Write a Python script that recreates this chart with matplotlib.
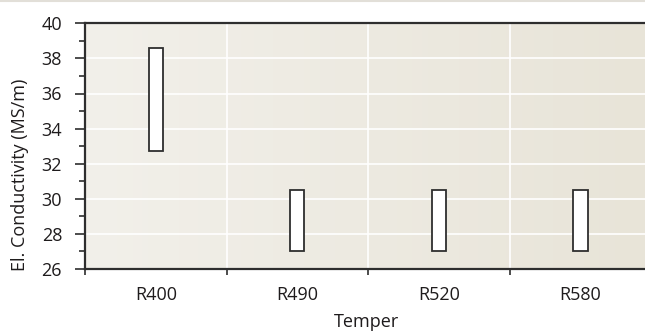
import numpy as np
import matplotlib
matplotlib.use("Agg")
from matplotlib import pyplot as plt
from matplotlib.colors import LinearSegmentedColormap
from matplotlib.lines import Line2D

plt.rcParams['font.family'] = ['Open Sans', 'DejaVu Sans']

tempers = ["R400", "R490", "R520", "R580"]
low = [32.75, 27.0, 27.0, 27.0]      # MS/m
high = [38.6, 30.5, 30.5, 30.5]

dark = "#2e2e2e"
txt = "#1e1b1c"
fs = 13

fig = plt.figure(figsize=(6.45, 3.31), dpi=100)
ax = fig.add_axes([85 / 645, 1 - 269 / 331, 562 / 645, 245.7 / 331])

x = np.arange(len(tempers))
ax.set_xlim(-0.5, 3.47)
ax.set_ylim(26, 40)

# background gradient
cmap = LinearSegmentedColormap.from_list("bg", ["#f2f0ea", "#e8e4d8"])
grad = np.linspace(0, 1, 256).reshape(1, -1)
ax.imshow(grad, cmap=cmap, aspect="auto", extent=[-0.5, 3.47, 26, 40], zorder=0)

# grid
for yv in range(28, 40, 2):
    ax.axhline(yv, color="white", lw=1.2, zorder=1)
for xv in x[:-1] + 0.5:
    ax.axvline(xv, color="white", lw=1.2, zorder=1)

ax.bar(x, np.array(high) - np.array(low), bottom=low, width=0.1,
       color="white", edgecolor=dark, linewidth=1.3, zorder=3)

ax.set_xticks(x)
ax.set_xticklabels(tempers)
ax.set_xticks(np.arange(-0.5, 3.0, 1.0), minor=True)
ax.tick_params(axis="x", which="major", length=0, pad=12, labelsize=fs, colors=txt)
ax.tick_params(axis="x", which="minor", length=4.5, width=1.2, color=dark, direction="out")

ax.set_yticks(range(26, 41, 2))
ax.set_yticks(range(27, 40, 2), minor=True)
ax.tick_params(axis="y", which="major", length=7, width=1.2, pad=9.5,
               labelsize=fs, colors=txt)
ax.tick_params(axis="y", which="minor", length=4.3, width=1.2)
ax.tick_params(axis="y", which="both", color=dark)

for s in ["left", "bottom", "top"]:
    ax.spines[s].set_color(dark)
    ax.spines[s].set_linewidth(1.6)
ax.spines["right"].set_visible(False)

ax.set_xlabel("Temper", fontsize=fs, color=txt, labelpad=7)
ax.set_ylabel("El. Conductivity (MS/m)", fontsize=fs, color=txt)
ax.yaxis.set_label_coords(-0.1, 0.385)

# thin border line at top of figure
fig.add_artist(Line2D([0, 1], [0.998, 0.998], transform=fig.transFigure,
                      color="#e2dfd8", lw=1.5))

fig.savefig("out.png", dpi=100)
